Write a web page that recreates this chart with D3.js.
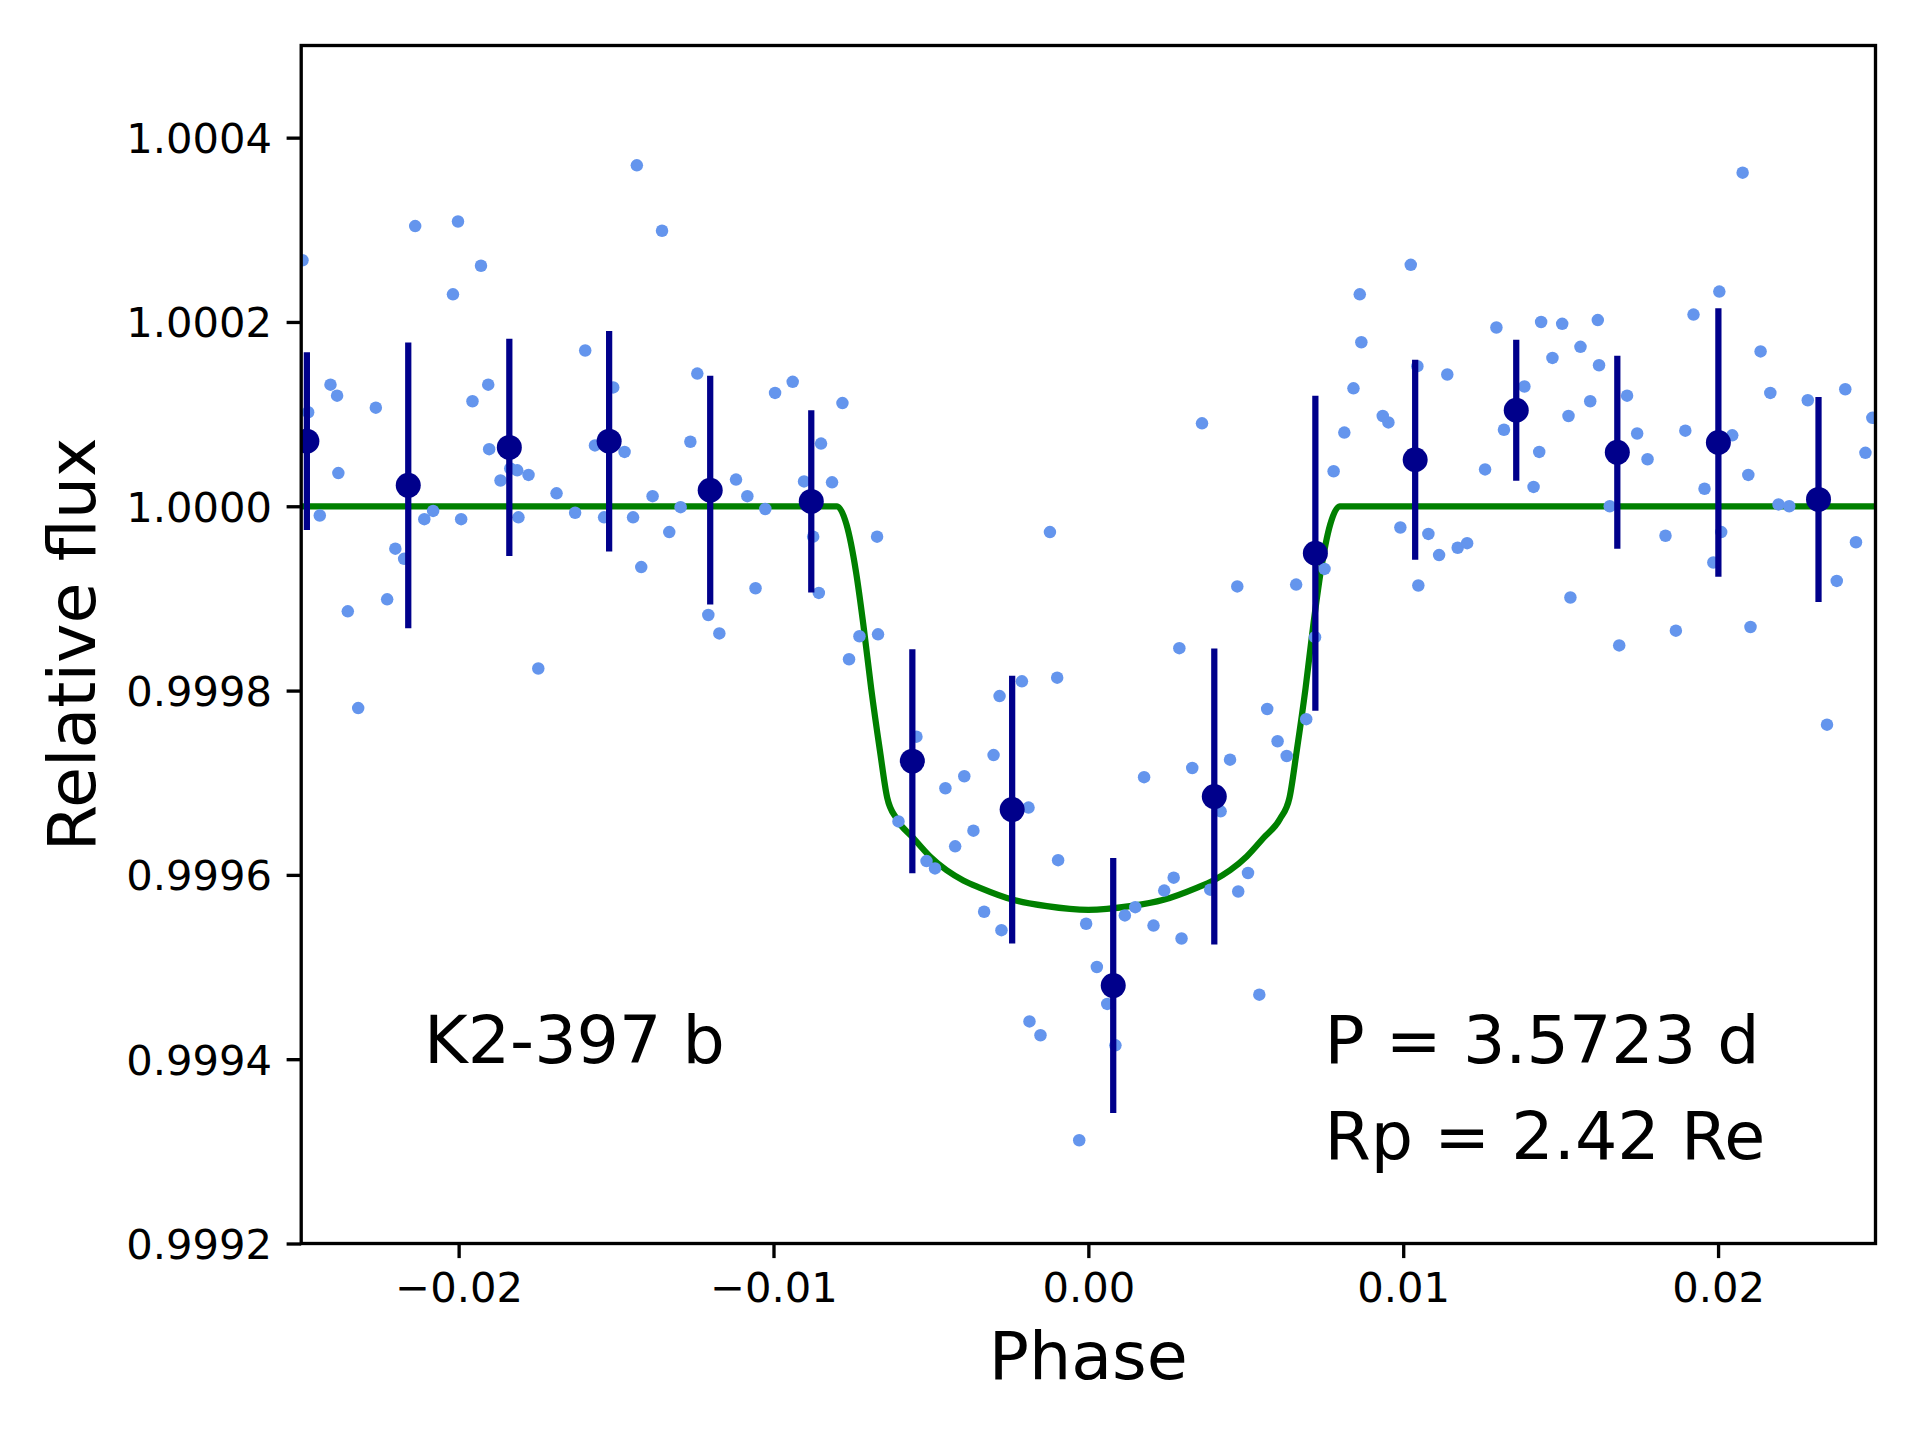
<!DOCTYPE html>
<html>
<head>
<meta charset="utf-8">
<script src="https://cdn.jsdelivr.net/npm/d3@7"></script>
<style>
  html, body { margin: 0; padding: 0; background: #ffffff; }
  svg { display: block; }
  text { font-family: "DejaVu Sans", sans-serif; }
</style>
</head>
<body>
<svg id="chart" width="1920" height="1440"></svg>
<script>
// ---- data ----
const rawPhase = [-0.02496,-0.02478,-0.02441,-0.02407,-0.02386,-0.02382,-0.02352,-0.02319,-0.02263,-0.02227,
  -0.02201,-0.02173,-0.02138,-0.02109,-0.02081,-0.02018,-0.02002,-0.01992,-0.01956,-0.01929,
  -0.01906,-0.01903,-0.01867,-0.01836,-0.01814,-0.01810,-0.01778,-0.01747,-0.01689,-0.01630,
  -0.01598,-0.01567,-0.01538,-0.01509,-0.01473,-0.01446,-0.01434,-0.01420,-0.01384,-0.01354,
  -0.01331,-0.01295,-0.01264,-0.01242,-0.01207,-0.01172,-0.01119,-0.01083,-0.01057,-0.01026,
  -0.00995,-0.00939,-0.00903,-0.00874,-0.00856,-0.00849,-0.00814,-0.00781,-0.00760,-0.00727,
  -0.00671,-0.00668,-0.00603,-0.00546,-0.00514,-0.00487,-0.00454,-0.00423,-0.00394,-0.00365,
  -0.00331,-0.00301,-0.00282,-0.00276,-0.00211,-0.00190,-0.00187,-0.00152,-0.00122,-0.00099,
  -0.00096,-0.00029,-0.00007,0.00027,0.00060,0.00086,0.00116,0.00149,0.00177,0.00207,
  0.00241,0.00271,0.00289,0.00296,0.00330,0.00361,0.00387,0.00420,0.00450,0.00476,
  0.00473,0.00507,0.00543,0.00568,0.00601,0.00630,0.00660,0.00692,0.00720,0.00750,
  0.00779,0.00813,0.00842,0.00862,0.00867,0.00935,0.00953,0.00991,0.01024,0.01045,
  0.01048,0.01080,0.01114,0.01140,0.01173,0.01203,0.01260,0.01296,0.01320,0.01385,
  0.01414,0.01432,0.01438,0.01474,0.01505,0.01531,0.01525,0.01563,0.01594,0.01618,
  0.01622,0.01656,0.01686,0.01711,0.01743,0.01776,0.01833,0.01866,0.01896,0.01922,
  0.01957,0.01985,0.02004,0.02010,0.02045,0.02078,0.02096,0.02103,0.02135,0.02166,
  0.02192,0.02226,0.02285,0.02346,0.02377,0.02404,0.02438,0.02468,0.02490];

const rawFlux = [1.000267,1.000102,0.999990,1.000132,1.000120,1.000036,0.999886,0.999781,1.000107,0.999899,
  0.999954,0.999943,1.000304,0.999986,0.999995,1.000230,1.000309,0.999986,1.000114,1.000261,
  1.000132,1.000062,1.000028,1.000041,1.000039,0.999988,1.000034,0.999824,1.000014,0.999993,
  1.000169,1.000066,0.999988,1.000129,1.000059,0.999988,1.000370,0.999934,1.000011,1.000299,
  0.999972,0.999999,1.000070,1.000144,0.999882,0.999862,1.000029,1.000011,0.999911,0.999997,
  1.000123,1.000135,1.000027,0.999967,0.999906,1.000068,1.000026,1.000112,0.999834,0.999859,
  0.999967,0.999861,0.999658,0.999750,0.999615,0.999607,0.999694,0.999631,0.999707,0.999648,
  0.999560,0.999730,0.999794,0.999540,0.999810,0.999673,0.999441,0.999426,0.999972,0.999814,
  0.999616,0.999312,0.999547,0.999500,0.999460,0.999415,0.999556,0.999565,0.999706,0.999545,
  0.999583,0.999597,0.999846,0.999531,0.999716,1.000090,0.999584,0.999669,0.999725,0.999582,
  0.999913,0.999602,0.999470,0.999780,0.999745,0.999729,0.999915,0.999769,0.999858,0.999932,
  1.000038,1.000080,1.000128,1.000230,1.000178,1.000098,1.000091,0.999977,1.000262,1.000152,
  0.999914,0.999970,0.999947,1.000143,0.999955,0.999960,1.000040,1.000194,1.000083,1.000130,
  1.000021,1.000059,1.000200,1.000161,1.000198,0.999901,1.000098,1.000173,1.000114,1.000202,
  1.000153,1.000000,0.999849,1.000120,1.000079,1.000051,0.999968,0.999865,1.000082,1.000208,
  1.000019,0.999939,1.000233,0.999972,1.000077,1.000362,1.000034,0.999869,1.000168,1.000123,
  1.000002,1.000000,1.000115,0.999763,0.999919,1.000127,0.999961,1.000058,1.000096];

const binPhase = [-0.02482,-0.02160,-0.01839,-0.01522,-0.01201,-0.00880,-0.00559,-0.00242,
  0.00079,0.00400,0.00721,0.01038,0.01359,0.01680,0.02001,0.02319];
const binFlux = [1.0000706,1.0000227,1.0000639,1.0000706,1.0000174,1.0000053,0.9997234,0.9996709,
  0.9994799,0.9996850,0.9999490,1.0000505,1.0001042,1.0000585,1.0000692,1.0000074];
const binErr = [0.0000964,0.0001551,0.0001179,0.0001196,0.0001241,0.0000990,0.0001215,0.0001453,
  0.0001383,0.0001606,0.0001708,0.0001084,0.0000766,0.0001047,0.0001456,0.0001113];

const modelPhase = [-0.025,-0.00798,-0.00768,-0.00738,-0.00714,-0.00690,-0.00662,-0.00639,-0.00609,
  -0.00556,-0.00503,-0.00450,-0.00397,-0.00344,-0.00239,-0.00132,0,
  0.00132,0.00239,0.00344,0.00397,0.00450,0.00503,0.00556,0.00609,0.00639,
  0.00662,0.00690,0.00714,0.00738,0.00768,0.00798,0.025];
const modelFlux = [1.0,1.0,0.999980,0.999929,0.999870,0.999803,0.999735,0.999684,0.999661,
  0.999640,0.999620,0.999605,0.999594,0.999586,0.999573,0.999566,0.999562,
  0.999566,0.999573,0.999586,0.999594,0.999605,0.999620,0.999640,0.999661,0.999684,
  0.999735,0.999803,0.999870,0.999929,0.999980,1.0,1.0];

const xTicks = [-0.02,-0.01,0.00,0.01,0.02];
const yTicks = [0.9992,0.9994,0.9996,0.9998,1.0000,1.0002,1.0004];
const xLabel = "Phase";
const yLabel = "Relative flux";
const planetName = "K2-397 b";
const infoLines = ["P = 3.5723 d","Rp = 2.42 Re"];

// ---- layout ----
const L = 301.2, R = 1875.5, T = 45.5, B = 1243.5;
const svg = d3.select("#chart");
const x = d3.scaleLinear().domain([-0.025,0.025]).range([L,R]);
const y = d3.scaleLinear().domain([0.9992,1.0005]).range([B,T]);

svg.append("rect").attr("width",1920).attr("height",1440).attr("fill","#ffffff");

svg.append("defs").append("clipPath").attr("id","clip")
  .append("rect").attr("x",L).attr("y",T).attr("width",R-L).attr("height",B-T);

const plot = svg.append("g").attr("clip-path","url(#clip)");

// model
const line = d3.line().x((d,i)=>x(modelPhase[i])).y((d,i)=>y(modelFlux[i])).curve(d3.curveMonotoneX);
plot.append("path").datum(modelPhase).attr("d",line)
  .attr("fill","none").attr("stroke","#008000").attr("stroke-width",6.25)
  .attr("stroke-linejoin","round").attr("stroke-linecap","butt");

// raw points
plot.selectAll("circle.raw").data(rawPhase).enter().append("circle")
  .attr("class","raw")
  .attr("cx",(d)=>x(d)).attr("cy",(d,i)=>y(rawFlux[i])).attr("r",6.25)
  .attr("fill","#6495ED");

// binned with error bars
plot.selectAll("line.err").data(binPhase).enter().append("line")
  .attr("class","err")
  .attr("x1",d=>x(d)).attr("x2",d=>x(d))
  .attr("y1",(d,i)=>y(binFlux[i]-binErr[i])).attr("y2",(d,i)=>y(binFlux[i]+binErr[i]))
  .attr("stroke","#00008B").attr("stroke-width",6.25);
plot.selectAll("circle.bin").data(binPhase).enter().append("circle")
  .attr("class","bin")
  .attr("cx",d=>x(d)).attr("cy",(d,i)=>y(binFlux[i])).attr("r",12.5)
  .attr("fill","#00008B");

// axes
const minus = s => s.replace("-", "\u2212");
const xAxis = d3.axisBottom(x).tickValues(xTicks).tickFormat(d=>minus(d3.format(".2f")(d)))
  .tickSize(14.6).tickSizeOuter(0).tickPadding(14.6);
const yAxis = d3.axisLeft(y).tickValues(yTicks).tickFormat(d3.format(".4f"))
  .tickSize(14.6).tickSizeOuter(0).tickPadding(14.6);

const gx = svg.append("g").attr("transform",`translate(0,${B})`).call(xAxis);
const gy = svg.append("g").attr("transform",`translate(${L},0)`).call(yAxis);
[gx,gy].forEach(g=>{
  g.select(".domain").remove();
  g.selectAll(".tick line").attr("stroke","#000").attr("stroke-width",3.33);
  g.selectAll(".tick text").attr("fill","#000").attr("font-size",41.67)
    .attr("font-family","DejaVu Sans");
});
gy.selectAll(".tick text").attr("dy","0.36em");

// frame
svg.append("rect").attr("x",L).attr("y",T).attr("width",R-L).attr("height",B-T)
  .attr("fill","none").attr("stroke","#000").attr("stroke-width",3.33);

// labels
svg.append("text").attr("x",(L+R)/2).attr("y",1379).attr("text-anchor","middle")
  .attr("font-size",66.67).attr("fill","#000").text(xLabel);
svg.append("text").attr("transform",`translate(94.6,${(T+B)/2}) rotate(-90)`)
  .attr("text-anchor","middle").attr("font-size",66.67).attr("fill","#000").text(yLabel);

// annotations (baseline slightly below the 0.9994 level, as in the reference)
const annY = y(0.9994) + 4;
svg.append("text").attr("x",x(-0.0211)).attr("y",annY)
  .attr("font-size",66.67).attr("fill","#000").text(planetName);
infoLines.forEach((t,i)=>{
  svg.append("text").attr("x",x(0.0075)).attr("y",annY+i*96)
    .attr("font-size",66.67).attr("fill","#000").text(t);
});
</script>
</body>
</html>
